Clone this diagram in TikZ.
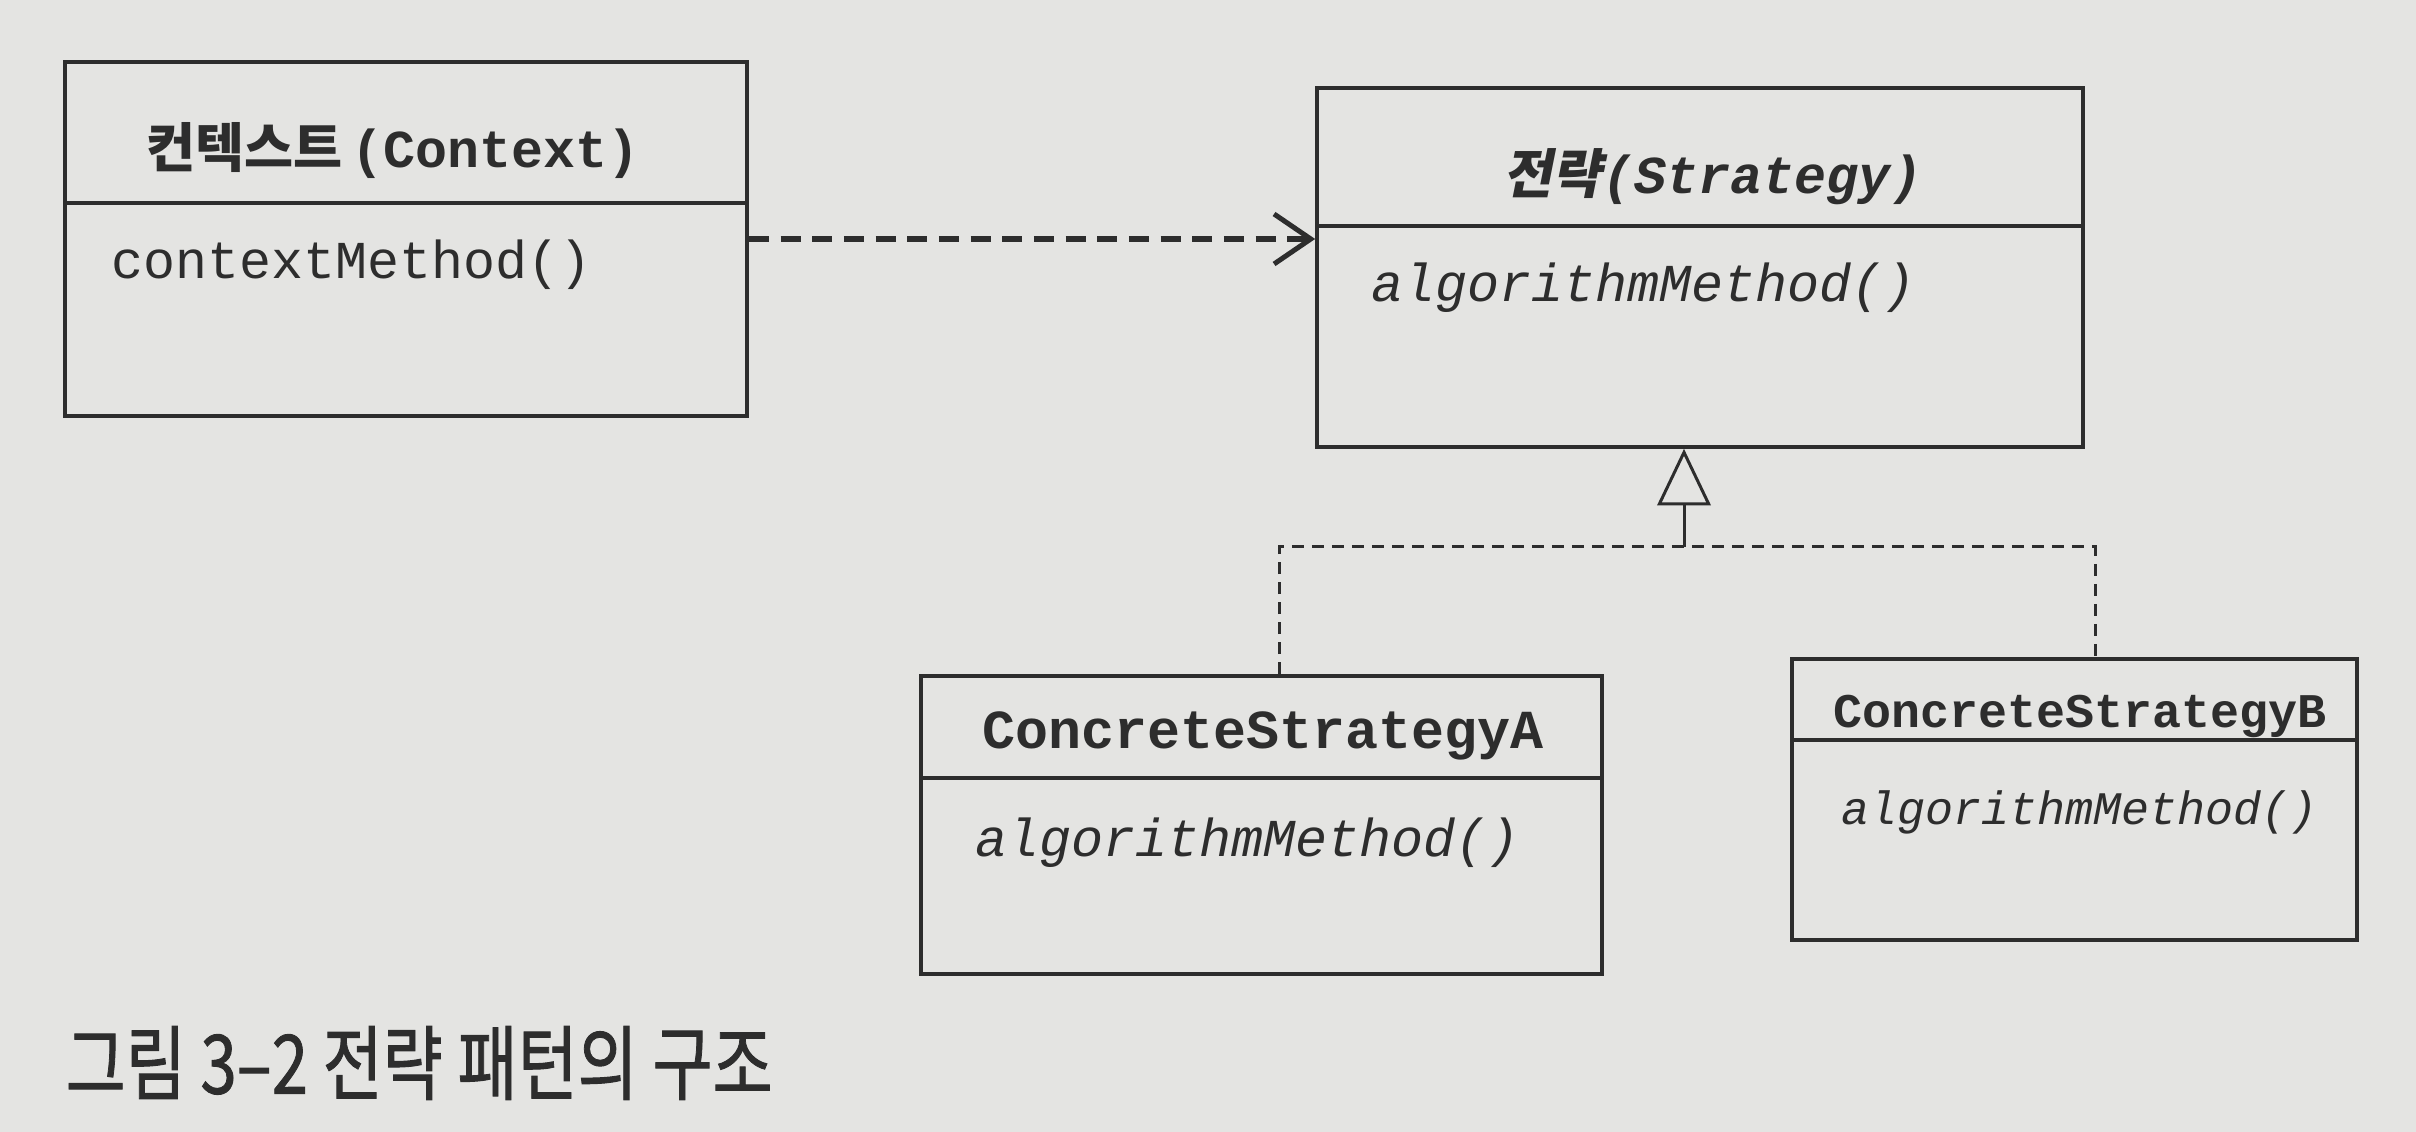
\documentclass[tikz,border=0pt]{standalone}
\usepackage{fontspec}
\setmonofont{Liberation Mono}
\newfontfamily\kr{Noto Sans CJK KR}
\newfontfamily\krcap[FakeBold=1.2]{Noto Sans CJK KR}
\newfontfamily\krsl[FakeSlant=0.2]{Noto Sans CJK KR}
\usetikzlibrary{arrows.meta}
\definecolor{bg}{RGB}{228,228,226}
\definecolor{ink}{RGB}{45,45,45}
\tikzset{
  umlbox/.style={draw=ink, line width=1.1pt, rectangle, inner sep=0pt},
  divline/.style={draw=ink, line width=1.1pt},
  title/.style={text=ink, inner sep=0pt, font=\fontsize{16}{18}\selectfont\ttfamily\bfseries},
  meth/.style={text=ink, anchor=west, inner sep=0pt, font=\fontsize{16}{18}\selectfont\ttfamily},
  dep/.style={draw=ink, line width=1.8pt, dash pattern=on 6pt off 3.5pt,
    -{Straight Barb[length=11pt,width=15pt,line width=1.5pt]}},
  real/.style={draw=ink, line width=0.9pt, dash pattern=on 3.6pt off 2.4pt},
  gen/.style={draw=ink, line width=0.9pt,
    -{Triangle[open,length=17pt,width=16pt,line width=0.9pt]}},
}
\begin{document}
\begin{tikzpicture}[x=0.3pt,y=-0.3pt]
\fill[bg] (0,0) rectangle (2416,1132);
\useasboundingbox (0,0) rectangle (2416,1132);

% Context
\node[umlbox, minimum width=204.6pt, minimum height=106.2pt] (ctx) at (406,239) {};
\coordinate (d1) at (0,203);
\draw[divline] (ctx.west |- d1) -- (ctx.east |- d1);
\node[title] (ctxT) at (393,151) {{\kr\bfseries 컨텍스트}\,(Context)};
\node[meth] (ctxM) at (111,265) {contextMethod()};

% Strategy
\node[umlbox, minimum width=229.8pt, minimum height=107.7pt] (strat) at (1700,267.5) {};
\coordinate (d2) at (0,226);
\draw[divline] (strat.west |- d2) -- (strat.east |- d2);
\node[title] (stratT) at (1713,177) {{\krsl\bfseries 전략}\itshape(Strategy)};
\node[meth, font=\fontsize{16}{18}\selectfont\ttfamily\itshape] (stratM) at (1371,288) {algorithmMethod()};

% ConcreteStrategyA
\node[umlbox, minimum width=204.3pt, minimum height=89.4pt] (csa) at (1261.5,825) {};
\coordinate (d3) at (0,778);
\draw[divline] (csa.west |- d3) -- (csa.east |- d3);
\node[title, font=\fontsize{16.5}{18}\selectfont\ttfamily\bfseries] (csaT) at (1263,736) {ConcreteStrategyA};
\node[meth, font=\fontsize{16}{18}\selectfont\ttfamily\itshape] (csaM) at (975,843) {algorithmMethod()};

% ConcreteStrategyB
\node[umlbox, minimum width=169.5pt, minimum height=84.3pt] (csb) at (2074.5,799.5) {};
\coordinate (d4) at (0,740);
\draw[divline] (csb.west |- d4) -- (csb.east |- d4);
\node[title, font=\fontsize{14.5}{16}\selectfont\ttfamily\bfseries] (csbT) at (2080,716) {ConcreteStrategyB};
\node[meth, font=\fontsize{14}{16}\selectfont\ttfamily\itshape] (csbM) at (1841,812) {algorithmMethod()};

% connectors
\draw[dep] (ctx.east) -- (ctx.east -| strat.west);
\coordinate (j) at (1684,547);
\coordinate (ja) at (1279,547);
\coordinate (jb) at (2095,547);
\draw[real] (ja |- csa.north) -- (ja) -- (jb) -- (jb |- csb.north);
\draw[gen] (j) -- (j |- strat.south);

% caption
\node[anchor=west, text=ink, inner sep=0pt, font=\krcap\fontsize{24.5}{28}\selectfont] (cap) at (65,1063)
  {\scalebox{0.8}[1]{그림 3–2 전략 패턴의 구조}};
\end{tikzpicture}
\end{document}
